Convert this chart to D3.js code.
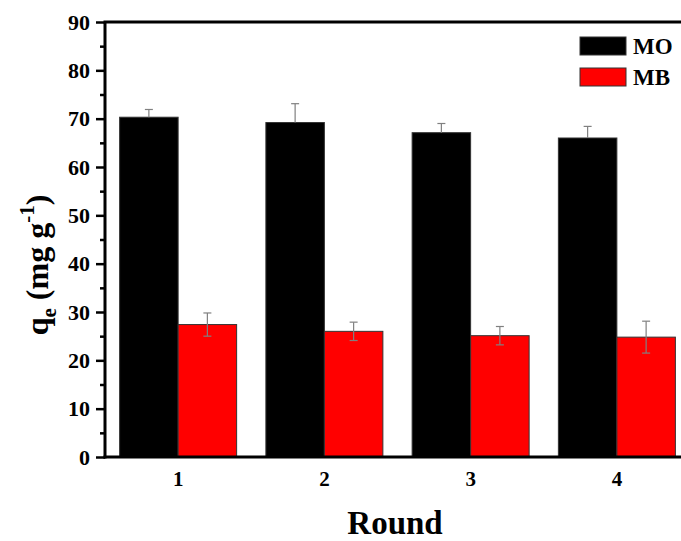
<!DOCTYPE html>
<html>
<head>
<meta charset="utf-8">
<script src="https://cdn.jsdelivr.net/npm/d3@7"></script>
<style>
  body { margin: 0; background: #ffffff; }
  svg text { font-family: "Liberation Serif", "Times New Roman", serif; font-weight: bold; fill: #000; }
</style>
</head>
<body>
<svg id="chart" width="681" height="541"></svg>
<script>
// data
var rounds = ["1", "2", "3", "4"];
var seriesNames = ["MO", "MB"];
var moValues = [70.3, 69.2, 67.1, 66.0];
var moErrors = [1.6, 3.9, 1.9, 2.4];
var mbValues = [27.4, 26.0, 25.1, 24.8];
var mbErrors = [2.4, 1.9, 1.9, 3.3];
var seriesColors = ["#000000", "#ff0000"];
var yTicks = [0, 10, 20, 30, 40, 50, 60, 70, 80, 90];

var svg = d3.select("#chart");
var margin = { left: 105, top: 22, bottom: 84 };
var plotW = 585; // right edge falls outside the window, as in the source image
var plotH = 541 - margin.top - margin.bottom;

var g = svg.append("g").attr("transform", "translate(" + margin.left + "," + margin.top + ")");

var x0 = d3.scaleBand().domain(rounds).range([0, plotW]).paddingInner(0.2).paddingOuter(0.1);
var x1 = d3.scaleBand().domain(seriesNames).range([0, x0.bandwidth()]);
var y = d3.scaleLinear().domain([0, 90]).range([plotH, 0]);

var series = [
    { name: "MO", values: moValues, errors: moErrors, color: seriesColors[0], lowerHalf: false },
    { name: "MB", values: mbValues, errors: mbErrors, color: seriesColors[1], lowerHalf: true }
];

// bars
series.forEach(function(s) {
    g.append("g").selectAll("rect")
        .data(rounds)
        .enter().append("rect")
        .attr("x", function(d) { return x0(d) + x1(s.name); })
        .attr("y", function(d, i) { return y(s.values[i]); })
        .attr("width", x1.bandwidth())
        .attr("height", function(d, i) { return plotH - y(s.values[i]); })
        .attr("fill", s.color)
        .attr("stroke", "#333")
        .attr("stroke-width", 1);
});

// error bars
series.forEach(function(s) {
    var eg = g.append("g").attr("stroke", "#808080").attr("stroke-width", 1.2);
    rounds.forEach(function(d, i) {
        var cx = x0(d) + x1(s.name) + x1.bandwidth() / 2;
        var top = y(s.values[i] + s.errors[i]);
        var bot = s.lowerHalf ? y(s.values[i] - s.errors[i]) : y(s.values[i]);
        eg.append("line").attr("x1", cx).attr("x2", cx).attr("y1", top).attr("y2", bot);
        eg.append("line").attr("x1", cx - 4).attr("x2", cx + 4).attr("y1", top).attr("y2", top);
        if (s.lowerHalf) {
            eg.append("line").attr("x1", cx - 4).attr("x2", cx + 4).attr("y1", bot).attr("y2", bot);
        }
    });
});

// minor ticks on y
var yMinor = d3.axisLeft(y).tickValues(d3.range(5, 90, 10)).tickSize(5).tickFormat("");
g.append("g").call(yMinor).call(function(a) {
    a.select(".domain").remove();
    a.selectAll("line").attr("stroke", "#000").attr("stroke-width", 2.5);
});

// major y axis
var yAxis = d3.axisLeft(y).tickValues(yTicks).tickSize(9).tickPadding(6);
g.append("g").call(yAxis).call(function(a) {
    a.select(".domain").attr("stroke", "#000").attr("stroke-width", 3)
        .attr("d", "M0," + (plotH + 1.5) + "V0");
    a.selectAll(".tick line").attr("stroke", "#000").attr("stroke-width", 2.5);
    a.selectAll(".tick text").style("font-size", "22px").style("font-family", "Liberation Serif").style("font-weight", "bold");
});

// x axis
var xAxis = d3.axisBottom(x0).tickSize(0).tickPadding(14);
g.append("g").attr("transform", "translate(0," + plotH + ")").call(xAxis).call(function(a) {
    a.select(".domain").attr("stroke", "#000").attr("stroke-width", 3).attr("d", "M-1.5,0H" + plotW);
    a.selectAll(".tick text").style("font-size", "21px").style("font-family", "Liberation Serif").style("font-weight", "bold");
});

// top frame
g.append("line").attr("x1", -1.5).attr("x2", plotW).attr("y1", 0).attr("y2", 0)
    .attr("stroke", "#000").attr("stroke-width", 3);

// axis titles
svg.append("text")
    .attr("x", 395).attr("y", 534)
    .attr("text-anchor", "middle")
    .style("font-size", "33px")
    .text("Round");

var yt = svg.append("text")
    .attr("transform", "translate(48,265) rotate(-90)")
    .attr("text-anchor", "middle")
    .style("font-size", "32px");
yt.append("tspan").text("q");
yt.append("tspan").attr("dy", 8).style("font-size", "21px").text("e");
yt.append("tspan").attr("dy", -8).text(" (mg g");
yt.append("tspan").attr("dy", -14).style("font-size", "21px").text("-1");
yt.append("tspan").attr("dy", 14).text(")");

// legend
var legend = svg.append("g").attr("transform", "translate(580,37)");
seriesNames.forEach(function(name, i) {
    var row = legend.append("g").attr("transform", "translate(0," + (i * 31) + ")");
    row.append("rect").attr("width", 46).attr("height", 18)
        .attr("fill", seriesColors[i]).attr("stroke", "#333").attr("stroke-width", 1);
    row.append("text").attr("x", 53).attr("y", 17).style("font-size", "23px").text(name);
});
</script>
</body>
</html>
